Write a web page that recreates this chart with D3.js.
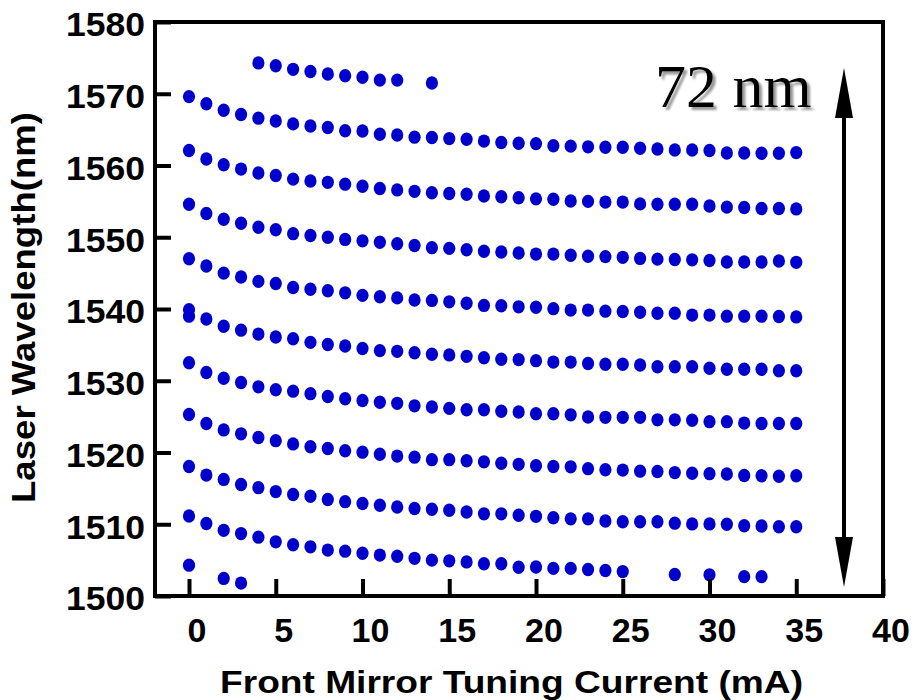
<!DOCTYPE html>
<html><head><meta charset="utf-8">
<script src="https://cdn.jsdelivr.net/npm/d3@7"></script>
<style>body{margin:0;background:#fff}</style>
</head><body>
<svg id="c" width="915" height="700"></svg>
<script>
// ---------- data ----------
const xTicks = [0, 5, 10, 15, 20, 25, 30, 35, 40];
const yTicks = [1500, 1510, 1520, 1530, 1540, 1550, 1560, 1570, 1580];
const xTitle = "Front Mirror Tuning Current (mA)";
const yTitle = "Laser Wavelength(nm)";
const spanLabel = "72 nm";

const currentAll = [0,1,2,3,4,5,6,7,8,9,10,11,12,13,14,15,16,17,18,19,20,21,22,23,24,25,26,27,28,29,30,31,32,33,34,35];
const currentTop = [4,5,6,7,8,9,10,11,12,14];
const currentLow = [0,1,2,3,4,5,6,7,8,9,10,11,12,13,14,15,16,17,18,19,20,21,22,23,24,25,28,30,32,33];
const currentBottom = [0,2,3];
const currentExtra = [0];

const wlTop = [1574.3,1573.9,1573.4,1573.1,1572.75,1572.5,1572.3,1571.9,1571.9,1571.5];
const wl1570 = [1569.6,1568.6,1567.7,1567.1,1566.6,1566.2,1565.8,1565.5,1565.3,1564.85,1564.8,1564.35,1564.25,1563.95,1563.9,1563.75,1563.65,1563.4,1563.2,1563.1,1563.05,1562.75,1562.7,1562.6,1562.55,1562.55,1562.4,1562.3,1562.15,1562.15,1562.1,1561.75,1561.75,1561.7,1561.7,1561.8];
const wl1562 = [1562.1,1560.9,1560.1,1559.5,1558.95,1558.6,1558.1,1557.85,1557.65,1557.4,1557.1,1556.8,1556.6,1556.4,1556.2,1556.1,1556.0,1555.75,1555.65,1555.5,1555.35,1555.3,1555.05,1555.0,1554.9,1554.9,1554.65,1554.6,1554.6,1554.6,1554.35,1554.2,1554.15,1554.0,1554.0,1553.95];
const wl1555 = [1554.6,1553.3,1552.5,1551.95,1551.4,1551.05,1550.5,1550.25,1550.0,1549.7,1549.5,1549.3,1549.1,1548.85,1548.55,1548.45,1548.25,1548.05,1547.95,1547.8,1547.65,1547.65,1547.5,1547.35,1547.3,1547.2,1547.05,1546.95,1546.9,1546.85,1546.75,1546.55,1546.55,1546.55,1546.7,1546.5];
const wl1547 = [1547.0,1546.0,1545.0,1544.45,1543.85,1543.55,1543.0,1542.75,1542.55,1542.25,1541.9,1541.7,1541.55,1541.25,1541.2,1541.0,1540.8,1540.5,1540.45,1540.3,1540.25,1540.05,1539.85,1539.85,1539.7,1539.65,1539.55,1539.4,1539.4,1539.15,1539.15,1539.0,1539.0,1539.0,1538.95,1538.9];
const wl1540 = [1539.9,1538.6,1537.6,1537.05,1536.5,1536.1,1535.85,1535.35,1535.05,1534.85,1534.5,1534.2,1534.1,1533.9,1533.7,1533.6,1533.4,1533.2,1533.0,1532.95,1532.8,1532.6,1532.6,1532.4,1532.3,1532.3,1532.2,1531.95,1531.95,1531.95,1531.75,1531.6,1531.6,1531.6,1531.4,1531.4];
const wl1533 = [1532.5,1531.15,1530.35,1529.75,1529.15,1528.75,1528.55,1528.2,1527.8,1527.5,1527.25,1527.0,1526.85,1526.5,1526.35,1526.15,1525.95,1525.95,1525.75,1525.65,1525.4,1525.4,1525.25,1524.95,1524.9,1524.9,1524.9,1524.55,1524.55,1524.5,1524.3,1524.3,1524.1,1524.05,1524.05,1524.05];
const wl1525 = [1525.3,1524.05,1523.15,1522.6,1522.1,1521.65,1521.2,1520.8,1520.55,1520.25,1520.05,1519.75,1519.5,1519.35,1519.0,1519.0,1518.85,1518.7,1518.5,1518.35,1518.15,1518.05,1518.0,1517.75,1517.6,1517.55,1517.4,1517.35,1517.2,1517.1,1517.05,1517.0,1516.8,1516.75,1516.7,1516.75];
const wl1518 = [1518.05,1516.85,1516.25,1515.55,1515.1,1514.55,1514.15,1513.9,1513.45,1513.15,1512.9,1512.65,1512.4,1512.2,1512.1,1511.95,1511.7,1511.45,1511.45,1511.25,1511.1,1510.9,1510.75,1510.75,1510.45,1510.35,1510.35,1510.35,1510.15,1510.05,1510.05,1510.0,1509.8,1509.75,1509.65,1509.65];
const wl1511 = [1511.15,1510.1,1509.15,1508.7,1508.2,1507.55,1507.15,1506.85,1506.4,1506.25,1505.95,1505.7,1505.55,1505.25,1505.0,1504.9,1504.75,1504.5,1504.5,1504.0,1504.05,1503.85,1503.85,1503.7,1503.55,1503.4,1503.0,1502.95,1502.7,1502.7];
const wlBottom = [1504.3,1502.45,1501.8];
const wlExtra = [1539.0];

const series = [
  [currentTop, wlTop], [currentAll, wl1570], [currentAll, wl1562], [currentAll, wl1555],
  [currentAll, wl1547], [currentAll, wl1540], [currentAll, wl1533], [currentAll, wl1525],
  [currentAll, wl1518], [currentLow, wl1511], [currentBottom, wlBottom], [currentExtra, wlExtra]
];

// ---------- chart ----------
const svg = d3.select('#c');
svg.append('rect').attr('width', 915).attr('height', 700).attr('fill', '#fff');

const defs = svg.append('defs');
defs.append('filter').attr('id', 'shadow').attr('x', '-10%').attr('y', '-10%')
  .attr('width', '130%').attr('height', '140%')
  .append('feDropShadow').attr('dx', 3).attr('dy', 3).attr('stdDeviation', 0.8)
  .attr('flood-color', '#999').attr('flood-opacity', 1);

const L = 155, R = 883, T = 22, B = 596;
const x = d3.scaleLinear().domain([-1.96, 40]).range([L, R]);
const y = d3.scaleLinear().domain([1500, 1580]).range([B, T]);
const font = "'Liberation Sans', Arial, Helvetica, sans-serif";

// dots
const pts = series.flatMap(([xs, ys]) => xs.map((c, i) => ({c, w: ys[i]})));
svg.append('g').selectAll('ellipse').data(pts).join('ellipse')
  .attr('cx', d => x(d.c)).attr('cy', d => y(d.w))
  .attr('rx', 6.1).attr('ry', 6.7).attr('fill', '#0000cc');

// axes
const gx = svg.append('g').attr('transform', `translate(0,${B})`)
  .call(d3.axisBottom(x).tickValues(xTicks).tickSize(-17).tickPadding(22).tickFormat(d3.format('d')));
gx.select('.domain').remove();
gx.selectAll('.tick line').attr('stroke', '#000').attr('stroke-width', 4);
gx.selectAll('.tick text').attr('fill', '#000').attr('dx', 7.5)
  .style('font-family', font).style('font-weight', 'bold').style('font-size', '34px');

const gy = svg.append('g').attr('transform', `translate(${L},0)`)
  .call(d3.axisLeft(y).tickValues(yTicks).tickSize(-16).tickPadding(10).tickFormat(d3.format('d')));
gy.select('.domain').remove();
gy.selectAll('.tick line').attr('stroke', '#000').attr('stroke-width', 4);
gy.selectAll('.tick text').attr('fill', '#000').attr('dy', '0.41em')
  .attr('textLength', 79).attr('lengthAdjust', 'spacingAndGlyphs')
  .style('font-family', font).style('font-weight', 'bold').style('font-size', '34px');

// frame
svg.append('rect').attr('x', L).attr('y', T).attr('width', R - L).attr('height', B - T)
  .attr('fill', 'none').attr('stroke', '#000').attr('stroke-width', 4);

// titles
svg.append('text').attr('x', 511.5).attr('y', 693).attr('text-anchor', 'middle')
  .attr('textLength', 583).attr('lengthAdjust', 'spacingAndGlyphs')
  .style('font-family', font).style('font-weight', 'bold').style('font-size', '32px')
  .text(xTitle);
svg.append('text').attr('transform', 'translate(35,307.5) rotate(-90)').attr('text-anchor', 'middle')
  .attr('textLength', 391).attr('lengthAdjust', 'spacingAndGlyphs')
  .style('font-family', font).style('font-weight', 'bold').style('font-size', '33px')
  .text(yTitle);

// 72 nm annotation with drop shadow
const serif = "'Liberation Serif', 'Times New Roman', serif";
svg.append('text').attr('x', 655).attr('y', 107).attr('fill', '#000')
  .attr('filter', 'url(#shadow)')
  .style('font-family', serif).style('font-size', '62px').text(spanLabel);

// double arrow
const ax = 844;
svg.append('line').attr('x1', ax).attr('x2', ax).attr('y1', 110).attr('y2', 545)
  .attr('stroke', '#000').attr('stroke-width', 4);
svg.append('path').attr('d', `M${ax},68 L${ax-9},118 L${ax+9},118 Z`).attr('fill', '#000');
svg.append('path').attr('d', `M${ax},587 L${ax-9},537 L${ax+9},537 Z`).attr('fill', '#000');
</script>
</body></html>
